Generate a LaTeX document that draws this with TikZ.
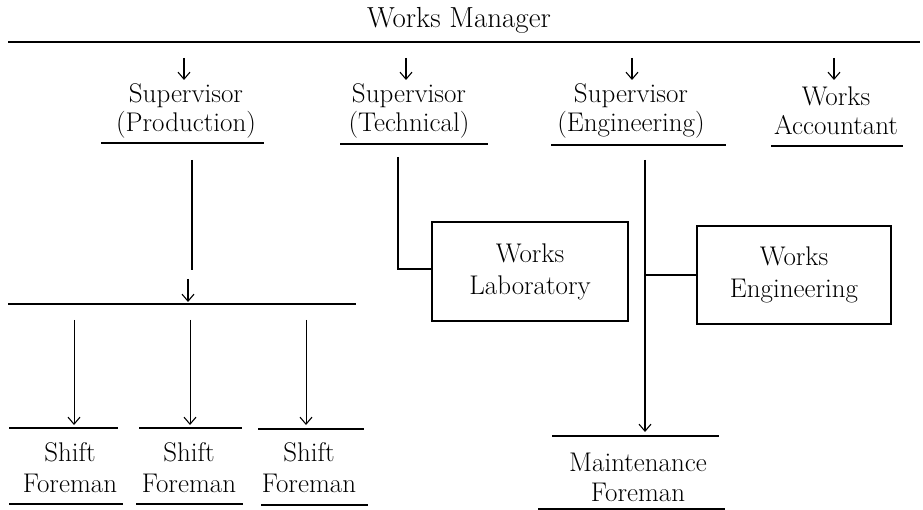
\documentclass[tikz,border=0pt]{standalone}
\usetikzlibrary{arrows.meta}
\begin{document}
\begin{tikzpicture}[x=1pt,y=-1pt,
  txt/.style={font=\fontsize{27}{29}\selectfont, align=center, inner sep=0pt},
  lowtxt/.style={font=\fontsize{27}{31}\selectfont, align=center, inner sep=0pt},
  heavy/.style={line width=2.2pt},
  light/.style={line width=1pt},
  arr/.style={line width=1.1pt, -{Straight Barb[length=7pt,width=12pt,line width=1.1pt]}},
  thinarr/.style={line width=0.9pt, -{Straight Barb[length=7pt,width=12pt,line width=1.1pt]}},
  boxnode/.style={draw, line width=2pt, font=\fontsize{27}{32}\selectfont, align=center}
]
\useasboundingbox (0,0) rectangle (923,510);

% Works Manager
\node[txt, font=\fontsize{29}{31}\selectfont] (wm) at (459,20) {Works Manager};
\coordinate (wmL) at (8,42);
\coordinate (wmR) at (920,42);
\draw[heavy] (wmL) -- (wmR);

% Supervisors
\node[txt] (sp) at (186,111) {Supervisor\\(Production)};
\node[txt] (st) at (409,111) {Supervisor\\(Technical)};
\node[txt] (se) at (631,111) {Supervisor\\(Engineering)};
\node[txt] (wa) at (836,111) {Works\\Accountant};

% arrows from manager line
\coordinate (a1s) at (184,58); \coordinate (a1e) at (184,80);
\coordinate (a2s) at (406,58); \coordinate (a2e) at (406,80);
\coordinate (a3s) at (632,58); \coordinate (a3e) at (632,80);
\coordinate (a4s) at (834,58); \coordinate (a4e) at (834,80);
\draw[arr] (a1s) -- (a1e);
\draw[arr] (a2s) -- (a2e);
\draw[arr] (a3s) -- (a3e);
\draw[arr] (a4s) -- (a4e);

% underlines of supervisors
\draw[heavy] (101,143) -- (264,143);
\draw[heavy] (340,144) -- (488,144);
\draw[heavy] (551,145) -- (726,145);
\draw[heavy] (771,146) -- (903,146);

% Production branch
\coordinate (pv1) at (192,160);
\coordinate (pv2) at (192,270);
\draw[heavy] (pv1) -- (pv2);
\coordinate (pa1) at (188,279);
\coordinate (pa2) at (188,302);
\draw[arr] (pa1) -- (pa2);
\coordinate (pbL) at (8,304);
\coordinate (pbR) at (356,304);
\draw[heavy] (pbL) -- (pbR);

% Shift foremen
\node[lowtxt] (sf1) at (70,468) {Shift\\Foreman};
\node[lowtxt] (sf2) at (189,468) {Shift\\Foreman};
\node[lowtxt] (sf3) at (309,468) {Shift\\Foreman};

\coordinate (s1a) at (74,320); \coordinate (s1b) at (74,425);
\coordinate (s2a) at (190,320); \coordinate (s2b) at (190,425);
\coordinate (s3a) at (306,320); \coordinate (s3b) at (306,425);
\draw[thinarr] (s1a) -- (s1b);
\draw[thinarr] (s2a) -- (s2b);
\draw[thinarr] (s3a) -- (s3b);

\draw[heavy] (9,428) -- (118,428);
\draw[heavy] (139,428) -- (242,428);
\draw[heavy] (258,429) -- (364,429);
\draw[heavy] (9,504) -- (123,504);
\draw[heavy] (136,504) -- (243,504);
\draw[heavy] (261,505) -- (368,505);

% Technical branch
\node[boxnode, minimum width=196pt, minimum height=99pt] (lab) at (530,271.5) {Works\\Laboratory};
\coordinate (tv1) at (398,157);
\coordinate (tv2) at (398,269);
\draw[heavy] (tv1) -- (tv2) -- (tv2 -| lab.west);

% Engineering branch
\node[boxnode, minimum width=194pt, minimum height=98pt] (eng) at (794,275) {Works\\Engineering};
\coordinate (ev1) at (645,160);
\coordinate (ev2) at (645,432);
\draw[heavy, -{Straight Barb[length=7pt,width=12pt,line width=1.1pt]}] (ev1) -- (ev2);
\coordinate (ej) at (645,275);
\draw[heavy] (ej) -- (eng.west);

% Maintenance foreman
\node[lowtxt, font=\fontsize{27}{30}\selectfont] (mf) at (638,477) {Maintenance\\Foreman};
\draw[heavy] (552,436) -- (719,436);
\draw[heavy] (538,509) -- (725,509);
\end{tikzpicture}
\end{document}
